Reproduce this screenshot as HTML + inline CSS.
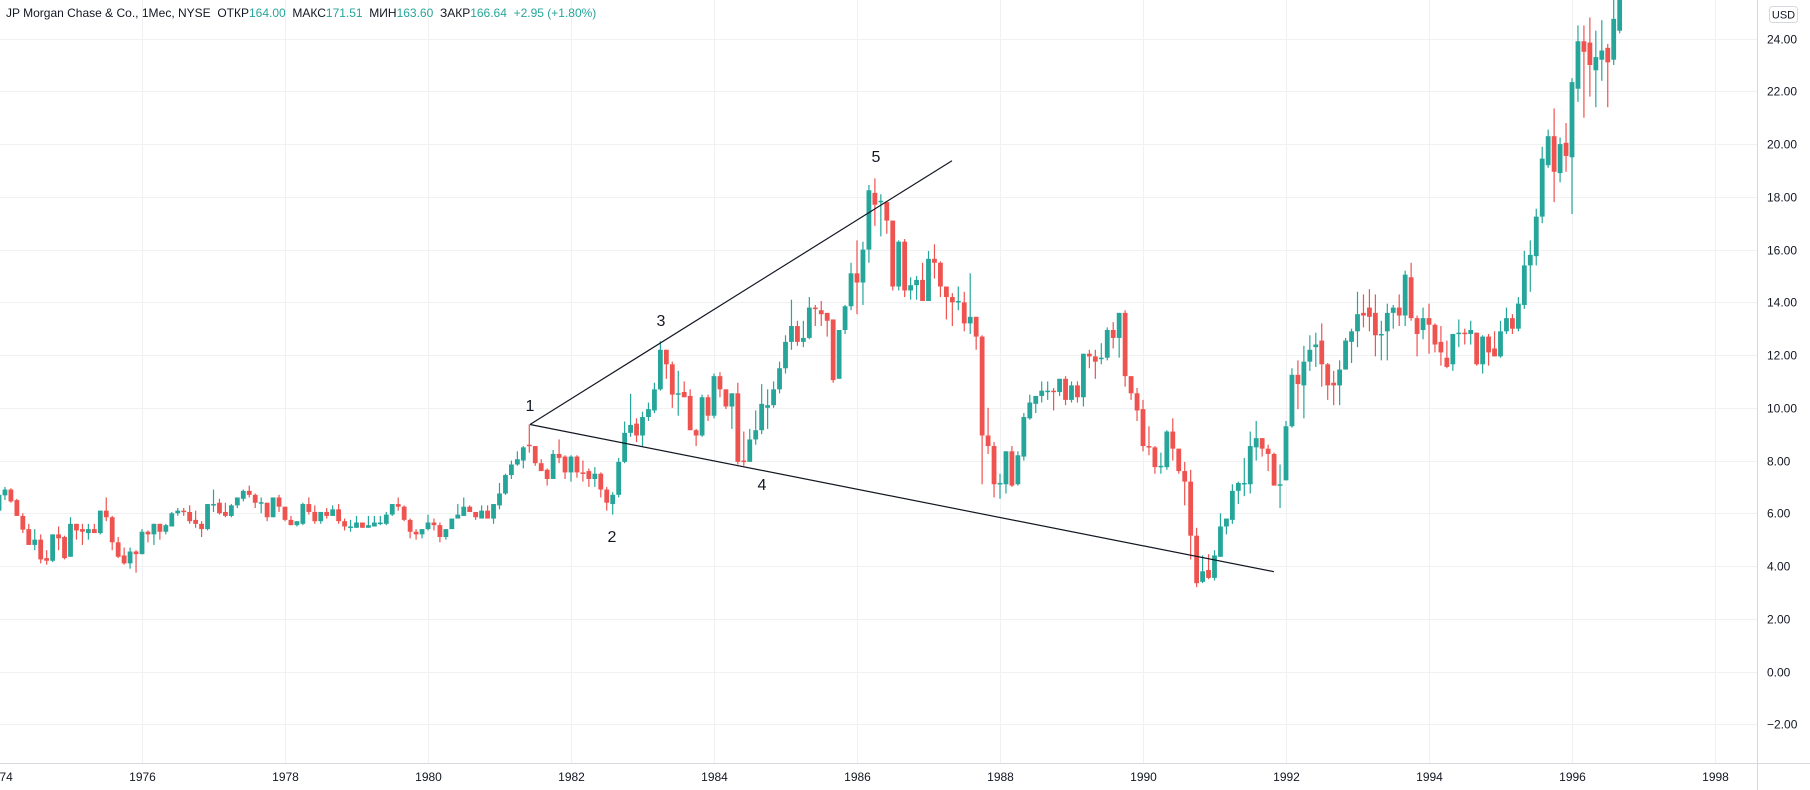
<!DOCTYPE html>
<html><head><meta charset="utf-8"><style>
html,body{margin:0;padding:0;background:#fff;}
svg{display:block;font-family:"Liberation Sans",sans-serif;}
</style></head><body>
<svg id="chart" width="1810" height="790" viewBox="0 0 1810 790" xmlns="http://www.w3.org/2000/svg">
<rect x="0" y="0" width="1810" height="790" fill="#ffffff"/>
<g id="grid"></g>
<g id="candles"></g>
<g id="lines">
<line x1="530" y1="424.5" x2="952" y2="160.7" stroke="#131722" stroke-width="1.2"/>
<line x1="530" y1="424.5" x2="1274" y2="571.7" stroke="#131722" stroke-width="1.2"/>
<text x="530" y="411" font-size="16" text-anchor="middle" fill="#131722">1</text>
<text x="612" y="542" font-size="16" text-anchor="middle" fill="#131722">2</text>
<text x="661" y="326" font-size="16" text-anchor="middle" fill="#131722">3</text>
<text x="762" y="490" font-size="16" text-anchor="middle" fill="#131722">4</text>
<text x="876" y="162" font-size="16" text-anchor="middle" fill="#131722">5</text>
</g>
<rect x="1757.5" y="0" width="52.5" height="790" fill="#fff"/>
<line x1="1757.5" y1="0" x2="1757.5" y2="790" stroke="#d6d8de" stroke-width="1"/>
<rect x="0" y="763.5" width="1757" height="27" fill="#fff"/>
<line x1="0" y1="763.5" x2="1810" y2="763.5" stroke="#d6d8de" stroke-width="1"/>
<g id="yaxis"></g>
<g id="xaxis"></g>
<g>
<rect x="1769.5" y="6.5" width="28" height="16" rx="3" fill="#fff" stroke="#d6d8de"/>
<text x="1783.5" y="18.5" font-size="11" text-anchor="middle" fill="#131722">USD</text>
</g>
<text x="6" y="17" font-size="12" fill="#131722" style="white-space:pre" xml:space="preserve">JP Morgan Chase &amp; Co., 1Мес, NYSE  ОТКР<tspan fill="#26a69a">164.00</tspan>  МАКС<tspan fill="#26a69a">171.51</tspan>  МИН<tspan fill="#26a69a">163.60</tspan>  ЗАКР<tspan fill="#26a69a">166.64</tspan>  <tspan fill="#26a69a">+2.95 (+1.80%)</tspan></text>
</svg>
<script>
const yTicks = [24,22,20,18,16,14,12,10,8,6,4,2,0,-2];
const xYears = [1974,1976,1978,1980,1982,1984,1986,1988,1990,1992,1994,1996,1998];
const startYear = 1974;
const opens = [6.1,6.68,6.9,6.5,5.9,5.4,4.8,5.0,4.3,4.2,5.2,5.1,4.35,5.6,5.4,5.25,5.4,5.25,6.1,5.85,4.9,4.4,4.1,4.55,4.45,5.3,5.2,5.6,5.3,5.5,6.0,6.1,6.05,5.75,5.6,5.4,6.3,6.4,6.05,5.9,6.3,6.55,6.85,6.7,6.4,6.4,5.85,6.6,6.25,5.75,5.55,5.6,6.35,6.05,5.7,6.05,5.9,6.15,5.7,5.45,5.45,5.65,5.45,5.5,5.6,5.6,5.95,6.35,6.25,5.75,5.3,5.2,5.4,5.65,5.55,5.1,5.4,5.8,5.9,6.25,6.05,5.8,6.1,5.8,6.3,6.75,7.45,7.85,8.0,8.6,8.55,7.9,7.65,7.3,
8.25,8.15,7.55,8.15,7.55,7.6,7.3,7.5,6.9,6.35,6.7,
7.95,9.05,9.4,8.95,9.65,9.9,10.7,12.2,11.65,10.5,10.6,10.45,9.15,8.95,10.4,9.7,11.2,10.7,10.05,10.55,8.0,7.95,8.8,9.15,10.0,10.1,10.7,11.5,12.5,13.1,12.5,12.65,13.8,13.7,13.6,13.35,11.1,12.95,13.85,15.1,14.75,16.0,18.15,17.8,17.8,17.1,14.6,16.3,14.45,14.65,14.85,14.05,15.65,15.5,14.6,14.2,14.0,14.0,13.2,13.45,
12.7,8.95,8.55,7.1,7.1,8.35,7.1,8.15,9.6,10.15,10.45,10.6,10.65,10.6,11.1,10.3,10.85,10.4,12.05,11.95,11.85,11.9,12.95,12.65,13.6,11.2,10.55,9.95,8.55,8.5,7.8,7.75,9.1,8.45,7.6,
7.2,5.15,3.4,3.85,3.55,4.35,5.5,5.75,6.85,7.1,7.1,8.5,8.85,8.45,8.25,7.05,7.25,9.3,11.25,10.85,11.75,12.3,12.55,11.65,10.95,10.85,11.45,12.5,12.9,13.6,13.8,13.6,12.8,12.9,13.6,13.8,13.5,14.95,13.4,12.95,13.4,13.15,12.5,11.9,11.65,12.8,12.85,12.8,12.85,11.65,12.7,12.25,
11.95,12.9,13.4,13.0,13.9,15.4,15.75,17.25,19.2,20.3,18.9,20.05,19.5,22.1,23.9,23.85,22.8,23.2,23.65,23.2,24.3];
const highs = [6.75,7.0,6.95,6.55,6.0,5.6,5.4,5.2,4.6,5.2,5.5,5.15,5.85,5.6,5.6,5.6,5.6,6.1,6.6,5.9,5.1,4.7,4.7,4.6,5.4,5.35,5.6,5.6,5.6,6.05,6.2,6.2,6.3,6.1,5.7,6.35,6.9,6.55,6.4,6.35,6.6,6.9,7.05,6.75,6.6,6.4,6.6,6.7,6.25,5.9,5.7,6.4,6.6,6.3,6.05,6.2,6.3,6.35,5.8,5.75,5.9,5.65,5.9,5.9,5.9,6.05,6.35,6.6,6.3,5.8,5.4,5.4,5.95,5.8,5.65,5.4,5.8,6.35,6.6,6.3,6.05,6.3,6.3,6.35,7.15,7.5,8.0,8.35,8.55,9.37,8.55,8.05,7.7,8.4,
8.8,8.2,8.2,8.2,8.0,7.7,7.75,7.55,7.0,6.8,8.1,
9.48,10.53,9.6,9.85,10.2,10.95,12.52,12.2,11.75,11.4,11.0,10.7,9.2,10.5,10.5,11.3,11.35,10.7,10.55,10.95,9.1,9.2,9.9,10.9,10.7,11.0,11.75,12.75,14.1,13.3,13.3,14.2,13.9,14.05,13.6,13.35,12.95,13.9,15.5,16.35,16.3,18.45,18.7,18.1,17.8,17.1,16.35,16.4,14.95,15.0,15.5,15.95,16.2,15.55,14.6,14.35,14.6,14.4,15.1,13.45,
12.75,10.0,8.7,7.5,8.35,8.55,8.35,9.8,10.5,10.45,11.0,11.0,10.75,11.1,11.2,11.0,11.0,12.05,12.2,12.2,12.45,13.05,13.25,13.6,13.7,11.2,10.75,10.3,9.3,8.55,8.3,9.15,9.6,8.45,7.95,
7.65,5.45,4.4,4.45,4.6,6.0,5.8,7.1,7.2,8.1,9.1,9.5,8.85,8.6,8.3,7.85,9.5,11.5,11.8,12.35,12.75,12.85,13.2,11.7,11.4,11.8,12.65,13.0,14.4,14.3,14.5,14.3,13.3,13.95,13.9,14.3,15.2,15.5,13.5,13.8,13.95,13.2,13.1,12.55,12.8,13.35,13.0,13.3,12.85,12.75,12.8,12.9,
13.3,13.8,13.55,14.2,15.95,16.35,17.55,19.9,20.55,21.35,20.25,20.8,22.5,24.5,24.5,24.8,24.3,24.7,23.8,25.7,26.5];
const lows = [6.1,6.5,6.4,5.9,5.25,4.8,4.6,4.1,4.05,4.15,4.6,4.25,4.35,5.0,4.8,5.0,5.25,5.2,5.7,4.6,4.3,4.05,3.9,3.75,4.45,4.9,4.8,5.0,5.2,5.5,5.9,5.9,5.6,5.45,5.1,5.35,6.05,5.95,5.85,5.85,6.2,6.45,6.6,6.2,6.0,5.7,5.85,6.05,5.7,5.55,5.5,5.55,5.95,5.6,5.6,5.8,5.9,5.6,5.35,5.3,5.45,5.45,5.45,5.5,5.55,5.55,5.9,6.1,5.7,5.05,5.0,5.05,5.35,5.35,4.9,5.0,5.4,5.8,5.9,6.05,5.75,5.8,5.8,5.6,6.15,6.7,7.3,7.8,7.7,8.3,7.8,7.6,7.05,7.3,
7.9,7.3,7.2,7.35,7.2,7.0,7.0,6.6,6.1,5.95,6.6,
7.9,8.9,8.7,8.55,9.5,9.8,10.65,11.1,10.0,9.7,10.4,9.15,8.55,8.9,9.5,9.6,10.4,9.95,9.2,7.85,7.8,7.95,8.6,9.0,9.2,10.0,10.55,11.3,12.2,12.35,12.3,12.6,13.1,13.1,12.7,10.95,11.1,12.8,13.7,13.55,13.9,15.5,16.9,16.5,16.6,14.45,14.45,14.2,14.1,14.1,14.05,14.05,14.9,14.2,13.35,13.1,13.7,12.9,12.8,12.2,
7.1,8.25,6.6,6.55,6.75,7.0,7.05,8.0,9.55,9.8,10.2,10.3,9.9,10.45,10.1,10.2,10.2,10.05,11.5,11.1,11.65,11.8,12.25,11.9,10.8,10.3,9.5,8.35,8.2,7.5,7.5,7.65,8.0,7.5,6.3,
4.25,3.2,3.35,3.5,3.45,4.35,5.2,5.6,6.35,6.65,6.75,8.0,8.15,7.6,7.05,6.2,7.25,9.25,9.95,9.6,11.4,11.55,10.8,10.3,10.1,10.1,11.45,11.7,12.3,13.05,12.9,11.95,11.8,11.8,13.0,13.1,13.1,13.3,11.95,12.6,12.05,12.1,11.6,11.5,11.4,12.3,12.4,12.4,11.6,11.3,11.6,11.95,
11.9,12.8,12.8,12.9,13.75,14.4,15.4,17.0,19.1,17.8,18.55,18.95,17.35,21.6,21.0,21.8,21.4,22.4,21.4,23.0,24.2];
const closes = [6.7,6.9,6.45,5.9,5.38,4.8,5.0,4.25,4.2,5.2,5.05,4.3,5.6,5.35,5.3,5.4,5.25,6.1,5.85,4.9,4.35,4.1,4.55,4.45,5.3,5.2,5.6,5.3,5.55,6.0,6.1,6.05,5.7,5.6,5.4,6.35,6.35,6.0,5.9,6.3,6.6,6.85,6.7,6.4,6.42,5.85,6.6,6.25,5.75,5.55,5.7,6.35,6.05,5.7,6.05,5.9,6.15,5.7,5.5,5.5,5.65,5.45,5.55,5.65,5.65,5.95,6.35,6.25,5.75,5.3,5.2,5.4,5.65,5.55,5.1,5.4,5.8,5.95,6.25,6.05,5.85,6.1,5.8,6.35,6.75,7.45,7.85,8.05,8.5,8.55,7.9,7.6,7.3,8.25,
8.1,7.55,8.15,7.55,7.5,7.3,7.5,6.9,6.4,6.7,7.95,
9.05,9.35,8.95,9.65,9.95,10.7,12.2,11.65,10.5,10.55,10.4,9.15,8.95,10.4,9.7,11.2,10.7,10.05,10.55,7.95,7.95,8.8,9.15,10.15,10.1,10.7,11.5,12.5,13.1,12.5,12.65,13.8,13.75,13.55,13.3,11.05,12.95,13.85,15.1,14.75,16.0,18.25,17.7,17.85,17.1,14.6,16.3,14.45,14.65,14.85,14.05,15.65,15.5,14.6,14.2,14.0,14.05,13.2,13.45,12.7,
8.95,8.55,7.1,7.15,8.35,7.05,8.2,9.65,10.2,10.45,10.65,10.65,10.6,11.1,10.3,10.85,10.4,12.05,11.95,11.75,11.9,12.95,12.65,13.6,11.2,10.55,9.9,8.55,8.5,7.75,7.8,9.1,8.45,7.6,7.2,
5.15,3.35,3.8,3.55,4.4,5.5,5.8,6.85,7.15,7.15,8.55,8.85,8.45,8.25,7.05,7.1,9.3,11.25,10.9,11.75,12.2,12.4,11.65,10.85,10.85,11.45,12.55,12.9,13.55,13.5,13.45,12.75,12.8,13.6,13.8,13.5,15.05,13.4,12.8,13.4,13.15,12.4,12.1,11.55,12.8,12.85,12.8,12.95,11.65,12.7,12.1,11.95,
12.9,13.4,13.0,13.95,15.4,15.8,17.25,19.45,20.3,18.95,20.0,19.55,22.35,23.9,23.5,23.0,23.3,23.55,23.1,24.75,25.8];

const NS = 'http://www.w3.org/2000/svg';
const yOf = v => 671.5 - v * 26.37;
const xOfYear = t => 142 + (t - 1976) * 71.5;
const xOfIndex = i => xOfYear(startYear + i / 12);
const GREEN = '#26a69a', RED = '#ef5350';

const grid = document.getElementById('grid');
const yaxis = document.getElementById('yaxis');
const xaxis = document.getElementById('xaxis');
const candles = document.getElementById('candles');

function mk(tag, attrs) {
  const e = document.createElementNS(NS, tag);
  for (const k in attrs) e.setAttribute(k, attrs[k]);
  return e;
}

yTicks.forEach(v => {
  const y = Math.round(yOf(v)) + 0.5;
  const gl = mk('line', {x1: 0, y1: y, x2: 1757, y2: y, stroke: '#f0f1f3', 'stroke-width': 1});
  
  
  grid.appendChild(gl);
  const t = mk('text', {x: 1767, y: y + 4, 'font-size': 12, fill: '#131722'});
  
  
  t.textContent = v.toFixed(2).replace('-', '\u2212');
  yaxis.appendChild(t);
});

xYears.forEach(yr => {
  const x = Math.round(xOfYear(yr)) + 0.5;
  const gl = mk('line', {x1: x, y1: 0, x2: x, y2: 763, stroke: '#f0f1f3', 'stroke-width': 1});
  
  
  grid.appendChild(gl);
  const t = mk('text', {x: x, y: 781, 'font-size': 12, fill: '#131722', 'text-anchor': 'middle'});
  
  
  t.textContent = String(yr);
  xaxis.appendChild(t);
});

closes.forEach((c, i) => {
  const o = opens[i], h = highs[i], l = lows[i];
  const x = xOfIndex(i);
  const col = c >= o ? GREEN : RED;
  const g = mk('g', {});
  
  
  const wick = mk('rect', {x: x - 0.6, y: yOf(h), width: 1.2, height: Math.max(1, yOf(l) - yOf(h)), fill: col});
  
  
  const top = yOf(Math.max(o, c)), bot = yOf(Math.min(o, c));
  const body = mk('rect', {x: x - 2.4, y: top, width: 4.8, height: Math.max(1.5, bot - top), fill: col});
  
  
  g.appendChild(wick);
  g.appendChild(body);
  candles.appendChild(g);
});
</script>
</body></html>
